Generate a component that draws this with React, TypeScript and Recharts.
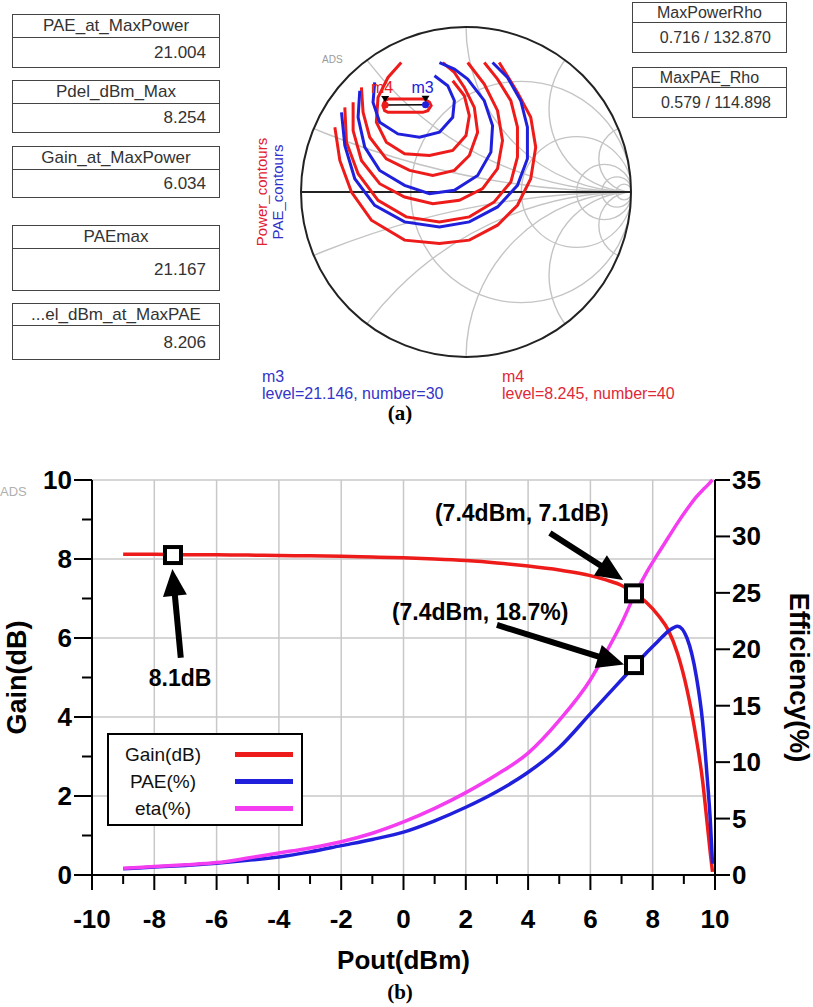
import React from 'react';
import {
  ComposedChart, Line, XAxis, YAxis, CartesianGrid, Legend, ReferenceDot, ReferenceLine,
  ScatterChart, Scatter,
} from 'recharts';

const FONT = '"Liberation Sans", Arial, Helvetica, sans-serif';
const RED = '#ee1b1b';
const BLUE = '#2020dc';
const MAGENTA = '#f43cf0';

// ---------- (a) load-pull summary ----------
const summaryTitles = ['PAE_at_MaxPower', 'Pdel_dBm_Max', 'Gain_at_MaxPower', 'PAEmax', '...el_dBm_at_MaxPAE'];
const summaryValues = ['21.004', '8.254', '6.034', '21.167', '8.206'];
const rhoTitles = ['MaxPowerRho', 'MaxPAE_Rho'];
const rhoMag = [0.716, 0.579];
const rhoAngle = [132.87, 114.898];
const markerNames = ['m4', 'm3'];
const markerLevels = ['level=8.245, number=40', 'level=21.146, number=30'];

// contours in the reflection-coefficient plane [re, im]
const powerContours = [
  [[-0.79, 0.39], [-0.76, 0.19], [-0.69, 0.0], [-0.57, -0.17], [-0.37, -0.29], [-0.16, -0.31], [0.02, -0.29], [0.19, -0.2], [0.31, -0.08], [0.39, 0.08], [0.42, 0.27], [0.39, 0.45], [0.31, 0.6], [0.2, 0.78]],
  [[-0.73, 0.51], [-0.72, 0.3], [-0.65, 0.11], [-0.53, -0.05], [-0.36, -0.15], [-0.16, -0.18], [0.02, -0.15], [0.17, -0.06], [0.27, 0.06], [0.31, 0.21], [0.31, 0.39], [0.27, 0.55], [0.19, 0.68], [0.11, 0.78]],
  [[-0.68, 0.54], [-0.68, 0.37], [-0.63, 0.19], [-0.52, 0.05], [-0.37, -0.03], [-0.2, -0.07], [-0.04, -0.05], [0.1, 0.02], [0.19, 0.14], [0.22, 0.31], [0.19, 0.49], [0.11, 0.65], [0.01, 0.78]],
  [[-0.63, 0.63], [-0.62, 0.48], [-0.58, 0.33], [-0.48, 0.2], [-0.34, 0.13], [-0.2, 0.1], [-0.07, 0.13], [0.02, 0.22], [0.07, 0.36], [0.05, 0.51], [-0.01, 0.63], [-0.07, 0.72], [-0.14, 0.78]],
  [[-0.39, 0.78], [-0.47, 0.69], [-0.53, 0.57], [-0.54, 0.42], [-0.48, 0.3], [-0.37, 0.23], [-0.22, 0.22], [-0.08, 0.25], [0.0, 0.34], [0.02, 0.46], [-0.01, 0.58], [-0.08, 0.67]],
  [[-0.47, 0.56], [-0.25, 0.56], [-0.22, 0.54], [-0.21, 0.52], [-0.23, 0.49], [-0.26, 0.48], [-0.47, 0.48], [-0.49, 0.49], [-0.5, 0.52], [-0.49, 0.55], [-0.47, 0.56]],
];
const paeContours = [
  [[-0.75, 0.48], [-0.73, 0.28], [-0.67, 0.08], [-0.55, -0.08], [-0.37, -0.18], [-0.16, -0.21], [0.02, -0.18], [0.19, -0.09], [0.31, 0.04], [0.37, 0.2], [0.37, 0.39], [0.33, 0.55], [0.25, 0.69], [0.16, 0.78]],
  [[-0.64, 0.61], [-0.65, 0.45], [-0.61, 0.27], [-0.52, 0.13], [-0.37, 0.04], [-0.22, -0.01], [-0.07, 0.01], [0.07, 0.1], [0.15, 0.24], [0.16, 0.4], [0.11, 0.55], [0.01, 0.68], [-0.07, 0.74], [-0.16, 0.78]],
  [[-0.55, 0.66], [-0.56, 0.54], [-0.52, 0.42], [-0.41, 0.35], [-0.28, 0.33], [-0.16, 0.36], [-0.08, 0.45], [-0.07, 0.55], [-0.11, 0.64], [-0.19, 0.7]],
];

// smith grid values
const resistanceCircles = [0.5, 2, 5, 10, 20];
const reactanceArcs = [0.2, 0.5, 1, 2, 5];

// ---------- (b) power sweep ----------
const pout = [-9, -8, -7, -6, -5, -4, -3, -2, -1, 0, 1, 2, 3, 4, 5, 6, 6.5, 7, 7.4, 7.8, 8.2, 8.5, 8.8, 9.1, 9.4, 9.6, 9.75, 9.85, 9.92];
const gainDb = [8.12, 8.12, 8.11, 8.11, 8.1, 8.09, 8.08, 8.07, 8.05, 8.03, 8.0, 7.96, 7.9, 7.82, 7.72, 7.58, 7.47, 7.33, 7.13, 6.9, 6.55, 6.2, 5.6, 4.7, 3.45, 2.4, 1.3, 0.55, 0.08];
const paePct = [0.55, 0.7, 0.85, 1.05, 1.3, 1.6, 2.05, 2.6, 3.15, 3.8, 4.8, 6.0, 7.4, 9.1, 11.3, 14.3, 15.8, 17.3, 18.5, 19.7, 20.8, 21.6, 22.05, 21.0, 17.6, 13.6, 8.6, 4.8, 1.0];
const etaPct = [0.6, 0.75, 0.9, 1.1, 1.5, 1.95, 2.4, 2.95, 3.7, 4.7, 5.9, 7.3, 8.9, 10.8, 13.7, 17.3, 19.7, 22.3, 24.7, 26.8, 28.6, 29.9, 31.2, 32.4, 33.5, 34.1, 34.5, 34.8, 35.0];

const xTicks = [-10, -9, -8, -7, -6, -5, -4, -3, -2, -1, 0, 1, 2, 3, 4, 5, 6, 7, 8, 9, 10];
const xGrid = [-10, -8, -6, -4, -2, 0, 2, 4, 6, 8, 10];
const gainTicks = [0, 1, 2, 3, 4, 5, 6, 7, 8, 9, 10];
const gainGrid = [0, 2, 4, 6, 8, 10];
const effTicks = [0, 5, 10, 15, 20, 25, 30, 35];

// markers (pout, value, axis) and annotation text
const markerPout = [-7.4, 7.4, 7.4];
const markerValue = [8.1, 7.13, 18.6];
const markerAxis = ['gain', 'gain', 'eff'];
const arrowTail = [[-7.15, 5.5], [4.7, 8.66], [3.0, 6.33]];
const arrowTip = [[-7.42, 7.75], [7.05, 7.47], [7.08, 5.33]];
const noteText = ['8.1dB', '(7.4dBm, 7.1dB)', '(7.4dBm, 18.7%)'];
const notePos = [[-7.17, 4.99], [3.8, 9.16], [2.46, 6.66]];

const perfData = pout.map((p, i) => ({ pout: p, gain: gainDb[i], pae: paePct[i], eta: etaPct[i] }));

const SMITH = 332;
const RAD = SMITH / 2;
const px = (re: number) => RAD + re * RAD;
const py = (im: number) => RAD - im * RAD;

const toPts = (c: number[][]) => c.map(([x, y]) => ({ x, y }));
const noDot = () => <g />;

const smithMarkers = rhoMag.map((m, i) => ({
  x: m * Math.cos((rhoAngle[i] * Math.PI) / 180),
  y: m * Math.sin((rhoAngle[i] * Math.PI) / 180),
  name: markerNames[i],
  color: i === 0 ? RED : BLUE,
}));

const SmithMarker = (props: any) => {
  const { cx, cy, payload } = props;
  return (
    <g>
      <circle cx={cx} cy={cy} r={3.5} fill={payload.color} />
      <path d={`M${cx - 4},${cy - 9} L${cx + 4},${cy - 9} L${cx},${cy - 3} Z`} fill="#000" />
      <text x={cx - 3} y={cy - 12} textAnchor="middle" fontSize={16} fontFamily={FONT} fill={payload.color}>
        {payload.name}
      </text>
    </g>
  );
};

function SmithGrid() {
  return (
    <svg width={SMITH} height={SMITH} style={{ position: 'absolute', left: 300, top: 26 }}>
      <defs>
        <clipPath id="unitDisc">
          <circle cx={RAD} cy={RAD} r={RAD} />
        </clipPath>
      </defs>
      <g clipPath="url(#unitDisc)" fill="none" stroke="#c4c4c4" strokeWidth={1.4}>
        {resistanceCircles.map((r) => (
          <circle key={`r${r}`} cx={px(r / (1 + r))} cy={RAD} r={RAD / (1 + r)} />
        ))}
        {reactanceArcs.flatMap((x) => [x, -x]).map((x) => (
          <circle key={`x${x}`} cx={px(1)} cy={py(1 / x)} r={RAD / Math.abs(x)} />
        ))}
      </g>
      <text x={22} y={37} fontSize={10} fill="#9a9a9a" fontFamily={FONT}>ADS</text>
      <circle cx={RAD} cy={RAD} r={RAD - 1} fill="none" stroke="#222" strokeWidth={2} />
      <line x1={1} y1={RAD} x2={SMITH - 1} y2={RAD} stroke="#222" strokeWidth={2} />
    </svg>
  );
}

function SummaryBox({ left, top, width, titleH, valueH, title, value, fontSize, padRight }: any) {
  return (
    <div
      style={{
        position: 'absolute', left, top, width, border: '1.5px solid #444', boxSizing: 'border-box',
        fontFamily: FONT, fontSize, color: '#333', background: '#fff',
      }}
    >
      <div style={{ height: titleH, lineHeight: `${titleH}px`, textAlign: 'center', borderBottom: '1.5px solid #444', whiteSpace: 'nowrap' }}>
        {title}
      </div>
      <div style={{ height: valueH, lineHeight: `${valueH}px`, textAlign: 'right', paddingRight: padRight }}>{value}</div>
    </div>
  );
}

const leftTops = [14, 80, 146, 225, 303];
const leftTitleH = [22, 22, 22, 22, 21];
const leftValueH = [29, 28, 27, 41, 33];

const GainTick = (props: any) => {
  const { x, y, payload } = props;
  const major = payload.value % 2 === 0;
  return (
    <g>
      <line x1={x - (major ? 18 : 10)} y1={y} x2={x} y2={y} stroke="#000" strokeWidth={2} />
      {major && (
        <text x={x - 20} y={y + 9} textAnchor="end" fontSize={26} fontWeight="bold" fontFamily={FONT} fill="#000">
          {payload.value}
        </text>
      )}
    </g>
  );
};

const EffTick = (props: any) => {
  const { x, y, payload } = props;
  return (
    <g>
      <line x1={x} y1={y} x2={x + 15} y2={y} stroke="#000" strokeWidth={2} />
      <text x={x + 17} y={y + 9} textAnchor="start" fontSize={26} fontWeight="bold" fontFamily={FONT} fill="#000">
        {payload.value}
      </text>
    </g>
  );
};

const PoutTick = (props: any) => {
  const { x, y, payload } = props;
  const major = payload.value % 2 === 0;
  return (
    <g>
      <line x1={x} y1={y} x2={x} y2={y + (major ? 15 : 9)} stroke="#000" strokeWidth={2} />
      {major && (
        <text x={x} y={y + 53} textAnchor="middle" fontSize={26} fontWeight="bold" fontFamily={FONT} fill="#000">
          {payload.value}
        </text>
      )}
    </g>
  );
};

const SquareMarker = (props: any) => {
  const { cx, cy } = props;
  return <rect x={cx - 8} y={cy - 8} width={16} height={16} fill="#fff" stroke="#000" strokeWidth={4} />;
};

const Arrow = (props: any) => {
  const { x1, y1, x2, y2 } = props;
  const dx = x2 - x1;
  const dy = y2 - y1;
  const len = Math.hypot(dx, dy) || 1;
  const ux = dx / len;
  const uy = dy / len;
  const head = 27;
  const half = 12;
  const bx = x2 - ux * head;
  const by = y2 - uy * head;
  return (
    <g>
      <line x1={x1} y1={y1} x2={bx + ux * 3} y2={by + uy * 3} stroke="#000" strokeWidth={6} />
      <polygon points={`${x2},${y2} ${bx - uy * half},${by + ux * half} ${bx + uy * half},${by - ux * half}`} fill="#000" />
    </g>
  );
};

const noteShape = (text: string) => (props: any) => (
  <text x={props.cx} y={props.cy + 8} textAnchor="middle" fontSize={23} fontWeight="bold" fontFamily={FONT} fill="#000">
    {text}
  </text>
);

const LegendBox = (props: any) => {
  const { payload = [] } = props;
  return (
    <div
      style={{
        width: 196, height: 93, border: '2px solid #000', boxSizing: 'border-box', background: '#fff',
        fontFamily: FONT, paddingTop: 6,
      }}
    >
      {payload.map((e: any) => (
        <div key={e.value} style={{ display: 'flex', alignItems: 'center', height: 27 }}>
          <span style={{ width: 108, textAlign: 'center', fontSize: 19, color: '#111' }}>{e.value}</span>
          <span style={{ width: 58, height: 5, background: e.color, marginLeft: 18 }} />
        </div>
      ))}
    </div>
  );
};

export default function App() {
  return (
    <div style={{ position: 'absolute', left: 0, top: 0, width: 813, height: 1007, overflow: 'hidden', background: '#fff' }}>
      {/* ---------- (a) ---------- */}
      {summaryTitles.map((t, i) => (
        <SummaryBox
          key={t}
          left={12}
          top={leftTops[i]}
          width={208}
          titleH={leftTitleH[i]}
          valueH={leftValueH[i]}
          title={t}
          value={summaryValues[i]}
          fontSize={17}
          padRight={13}
        />
      ))}
      {rhoTitles.map((t, i) => (
        <SummaryBox
          key={t}
          left={632}
          top={i === 0 ? 2 : 67}
          width={155}
          titleH={19}
          valueH={29}
          title={t}
          value={`${rhoMag[i].toFixed(3)} / ${rhoAngle[i].toFixed(3)}`}
          fontSize={16}
          padRight={15}
        />
      ))}

      <svg width={40} height={140} style={{ position: 'absolute', left: 248, top: 122 }}>
        <text transform="translate(19,70) rotate(-90)" textAnchor="middle" fontSize={15} fontFamily={FONT} fill="#e02030">
          Power_contours
        </text>
        <text transform="translate(35,70) rotate(-90)" textAnchor="middle" fontSize={15} fontFamily={FONT} fill="#3030c8">
          PAE_contours
        </text>
      </svg>

      <SmithGrid />
      <div style={{ position: 'absolute', left: 300, top: 26 }}>
        <ScatterChart width={SMITH} height={SMITH} margin={{ top: 0, right: 0, bottom: 0, left: 0 }}>
          <XAxis type="number" dataKey="x" domain={[-1, 1]} hide />
          <YAxis type="number" dataKey="y" domain={[-1, 1]} hide />
          {powerContours.map((c, i) => (
            <Scatter
              key={`p${i}`}
              data={toPts(c)}
              fill={RED}
              line={{ stroke: RED, strokeWidth: 3 }}
              shape={noDot}
              legendType="none"
              isAnimationActive={false}
            />
          ))}
          {paeContours.map((c, i) => (
            <Scatter
              key={`b${i}`}
              data={toPts(c)}
              fill={BLUE}
              line={{ stroke: BLUE, strokeWidth: 3 }}
              shape={noDot}
              legendType="none"
              isAnimationActive={false}
            />
          ))}
          <Scatter
            data={smithMarkers}
            fill="#000"
            line={{ stroke: '#000', strokeWidth: 1.5 }}
            shape={SmithMarker}
            legendType="none"
            isAnimationActive={false}
          />
        </ScatterChart>
      </div>

      {markerNames.map((m, i) => (
        <div
          key={m}
          style={{
            position: 'absolute', left: i === 0 ? 502 : 262, top: 368, height: 34, fontFamily: FONT, fontSize: 16,
            lineHeight: '17px', color: i === 0 ? '#e02838' : '#3434c8', whiteSpace: 'nowrap',
          }}
        >
          <div>{m}</div>
          <div>{markerLevels[i]}</div>
        </div>
      ))}
      <div style={{ position: 'absolute', left: 380, top: 403, width: 40, lineHeight: '21px', textAlign: 'center', fontFamily: '"Liberation Serif", "Times New Roman", serif', fontWeight: 'bold', fontSize: 21 }}>
        (a)
      </div>

      {/* ---------- (b) ---------- */}
      <div style={{ position: 'absolute', left: 0, top: 484, fontFamily: FONT, fontSize: 13, color: '#b0b0b0' }}>ADS</div>
      <div style={{ position: 'absolute', left: 0, top: 460 }}>
        <ComposedChart width={813} height={540} data={perfData} margin={{ top: 20, right: 38, bottom: 25, left: 32 }}>
          <CartesianGrid
            yAxisId="gain"
            stroke="#c8c8c8"
            strokeWidth={1.5}
            horizontalValues={gainGrid}
            verticalValues={xGrid}
          />
          <XAxis
            dataKey="pout"
            type="number"
            domain={[-10, 10]}
            ticks={xTicks}
            interval={0}
            height={100}
            tick={PoutTick}
            tickLine={false}
            tickSize={0}
            tickMargin={0}
            axisLine={{ stroke: '#000', strokeWidth: 2 }}
            label={(p: any) => (
              <text
                x={p.viewBox.x + p.viewBox.width / 2}
                y={p.viewBox.y + 94}
                textAnchor="middle"
                fontSize={26}
                fontWeight="bold"
                fontFamily={FONT}
                fill="#000"
              >
                Pout(dBm)
              </text>
            )}
          />
          <YAxis
            yAxisId="gain"
            type="number"
            domain={[0, 10]}
            ticks={gainTicks}
            interval={0}
            width={60}
            tick={GainTick}
            tickLine={false}
            tickSize={0}
            tickMargin={0}
            axisLine={{ stroke: '#000', strokeWidth: 2 }}
            label={(p: any) => (
              <text
                transform={`translate(26, ${p.viewBox.y + p.viewBox.height / 2}) rotate(-90)`}
                textAnchor="middle"
                fontSize={27}
                fontWeight="bold"
                fontFamily={FONT}
                fill="#000"
              >
                Gain(dB)
              </text>
            )}
          />
          <YAxis
            yAxisId="eff"
            orientation="right"
            type="number"
            domain={[0, 35]}
            ticks={effTicks}
            interval={0}
            width={60}
            tick={EffTick}
            tickLine={false}
            tickSize={0}
            tickMargin={0}
            axisLine={{ stroke: '#000', strokeWidth: 2 }}
            label={(p: any) => (
              <text
                transform={`translate(790, ${p.viewBox.y + p.viewBox.height / 2}) rotate(90)`}
                textAnchor="middle"
                fontSize={27}
                fontWeight="bold"
                fontFamily={FONT}
                fill="#000"
              >
                Efficiency(%)
              </text>
            )}
          />
          <Line yAxisId="gain" type="monotone" dataKey="gain" name="Gain(dB)" stroke={RED} strokeWidth={3.5} dot={false} isAnimationActive={false} />
          <Line yAxisId="eff" type="monotone" dataKey="pae" name="PAE(%)" stroke={BLUE} strokeWidth={3.5} dot={false} isAnimationActive={false} />
          <Line yAxisId="eff" type="monotone" dataKey="eta" name="eta(%)" stroke={MAGENTA} strokeWidth={3.5} dot={false} isAnimationActive={false} />

          {arrowTail.map((t, i) => (
            <ReferenceLine
              key={`a${i}`}
              yAxisId="gain"
              segment={[{ x: t[0], y: t[1] }, { x: arrowTip[i][0], y: arrowTip[i][1] }]}
              shape={Arrow}
            />
          ))}
          {markerPout.map((p, i) => (
            <ReferenceDot key={`m${i}`} yAxisId={markerAxis[i]} x={p} y={markerValue[i]} r={8} shape={SquareMarker} />
          ))}
          {noteText.map((t, i) => (
            <ReferenceDot key={`n${i}`} yAxisId="gain" x={notePos[i][0]} y={notePos[i][1]} r={1} shape={noteShape(t)} />
          ))}
          <Legend
            layout="vertical"
            align="center"
            verticalAlign="middle"
            content={LegendBox}
            wrapperStyle={{ left: 107, top: 273, width: 196, height: 93 }}
          />
        </ComposedChart>
      </div>
      <div style={{ position: 'absolute', left: 380, top: 982, width: 40, lineHeight: '21px', textAlign: 'center', fontFamily: '"Liberation Serif", "Times New Roman", serif', fontWeight: 'bold', fontSize: 21 }}>
        (b)
      </div>
    </div>
  );
}
